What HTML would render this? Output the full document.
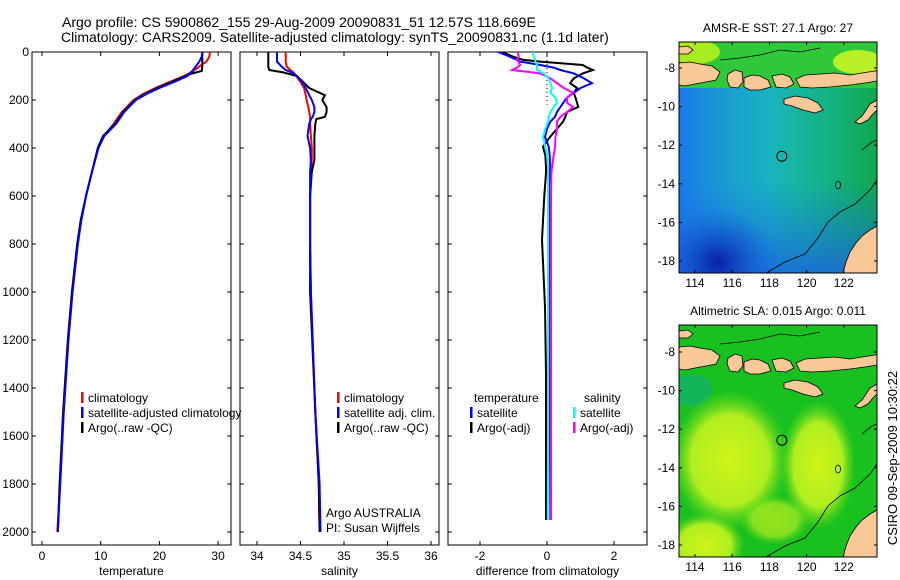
<!DOCTYPE html>
<html><head><meta charset="utf-8"><style>
html,body{margin:0;padding:0;background:#fff;}
svg{display:block;font-family:"Liberation Sans",sans-serif;}
</style></head><body>
<svg id="fig" width="900" height="580" viewBox="0 0 900 580">
<defs>
<linearGradient id="sstLeft" x1="0" x2="1" y1="0" y2="0"><stop offset="0" stop-color="#1a78e8"/><stop offset="0.6" stop-color="#1a9ed8" stop-opacity="0"/></linearGradient>
<linearGradient id="sstRight" x1="0" x2="1" y1="0" y2="0"><stop offset="0.45" stop-color="#12a860" stop-opacity="0"/><stop offset="1" stop-color="#10a84a"/></linearGradient>
<radialGradient id="sstDeep" cx="0.5" cy="0.5" r="0.5"><stop offset="0" stop-color="#0a1ea8"/><stop offset="1" stop-color="#1060d8" stop-opacity="0"/></radialGradient>
<linearGradient id="sstBottom" x1="0" x2="0" y1="0" y2="1"><stop offset="0.6" stop-color="#1a70e0" stop-opacity="0"/><stop offset="1" stop-color="#1a60e0" stop-opacity="0.8"/></linearGradient>
<radialGradient id="slaYel" cx="0.5" cy="0.5" r="0.5"><stop offset="0" stop-color="#d0f418"/><stop offset="0.65" stop-color="#b0ee20"/><stop offset="1" stop-color="#60d818" stop-opacity="0"/></radialGradient>
</defs>
<text x="62" y="27" font-size="14">Argo profile: CS 5900862_155 29-Aug-2009 20090831_51 12.57S 118.669E</text>
<text x="61" y="42" font-size="14">Climatology: CARS2009. Satellite-adjusted climatology: synTS_20090831.nc (1.1d later)</text>
<g id="panels"></g>
<g id="maps"></g>
<text transform="translate(897,458) rotate(-90)" font-size="13" text-anchor="middle">CSIRO 09-Sep-2009 10:30:22</text>
</svg>
<script>
// ---- data ----
const depthTicks = [0,200,400,600,800,1000,1200,1400,1600,1800,2000];
const tempTicks = [0,10,20,30];
const salTicks = [34,34.5,35,35.5,36];
const diffTicks = [-2,0,2];

const depthT = [0,20,40,60,79,90,100,125,150,175,200,250,300,350,400,500,600,700,800,1000,1200,1500,1800,2000];
const argoT = [27.3,27.3,27.3,27.3,27.2,25.5,24.4,22,19.6,17.5,15.8,13.8,12.4,10.4,9.5,8.5,7.5,6.6,6.0,5.1,4.4,3.6,3.0,2.7];
const climT = [28.6,28.5,28.0,26.8,25.8,25.0,24.2,21.7,19.3,17.2,15.6,13.6,12.2,10.6,9.6,8.5,7.5,6.7,6.1,5.2,4.5,3.7,3.1,2.6];
const satT = [27.3,27.2,26.8,26.2,25.6,25.1,24.8,22.5,20.0,17.8,16.0,14.0,12.6,10.6,9.6,8.5,7.5,6.7,6.1,5.2,4.5,3.7,3.1,2.7];

const depthS = [0,20,40,60,75,85,100,125,150,180,200,230,250,270,280,300,350,400,450,500,600,800,1000,1500,1800,2000];
const argoS = [34.13,34.13,34.13,34.13,34.14,34.3,34.46,34.53,34.6,34.78,34.75,34.8,34.8,34.78,34.68,34.67,34.66,34.66,34.66,34.63,34.61,34.61,34.61,34.67,34.71,34.72];
const climS = [34.33,34.33,34.33,34.34,34.38,34.42,34.45,34.5,34.54,34.56,34.57,34.59,34.6,34.61,34.61,34.61,34.62,34.63,34.63,34.62,34.61,34.61,34.62,34.67,34.71,34.72];
const satS = [34.23,34.23,34.23,34.28,34.33,34.4,34.46,34.52,34.56,34.6,34.63,34.66,34.66,34.64,34.62,34.6,34.58,34.61,34.62,34.61,34.61,34.61,34.62,34.67,34.72,34.73];

const depthD = [0,20,33,40,54,65,75,89,110,130,150,170,190,212,229,250,270,290,320,354,395,430,478,505,600,783,1062,1338,1600,1950];
const satTd = [-1.46,-1.1,-0.9,-0.8,-0.2,0.2,0.4,0.8,1.1,1.34,1.0,0.8,0.6,0.48,0.4,0.3,0.24,0.1,0.0,-0.06,0.05,0.08,0.09,0.08,0.06,0.06,0.07,0.08,0.09,0.1];
const argoTd = [-1.35,-1.0,-0.7,-0.2,1.07,1.2,1.37,1.07,0.8,0.69,0.9,0.8,0.85,0.9,0.93,0.6,0.55,0.48,0.3,0.09,-0.12,-0.05,-0.03,-0.03,-0.08,-0.15,-0.06,-0.03,-0.03,-0.03];
const satSd = [-0.42,-0.4,-0.35,-0.35,-0.3,-0.3,-0.3,-0.1,0.05,0.1,0.15,0.1,0.25,0.3,0.2,0.1,0.05,0.03,-0.05,-0.12,-0.05,0,0.03,0.03,0.03,0.03,0.03,0.03,0.03,0.02];
const argoSd = [-0.87,-0.85,-0.9,-0.85,-0.8,-0.9,-1.04,-0.2,0.1,0.3,0.5,0.78,0.6,0.6,0.78,0.6,0.4,0.3,0.3,0.25,0.24,0.2,0.15,0.13,0.12,0.12,0.12,0.12,0.12,0.12];

const lonTicks = [114,116,118,120,122];
const latTicks = [-8,-10,-12,-14,-16,-18];
const argoLon = 118.669, argoLat = -12.57;

// ---- helpers ----
const NS = 'http://www.w3.org/2000/svg';
function mk(tag, attrs, parent){const e=document.createElementNS(NS,tag);for(const k in attrs)e.setAttribute(k,attrs[k]);parent.appendChild(e);return e;}
const TOP=52, BOT=545;
const yD = d => TOP + d*0.24;
const panels = document.getElementById('panels');

function panel(name, x0, x1, xScale, ticks, title, showY){
  const g = mk('g',{},panels);
  
  
  const fr = mk('rect',{x:x0,y:TOP,width:x1-x0,height:BOT-TOP,fill:'none',stroke:'#000','stroke-width':1},g);
  
  
  ticks.forEach(t=>{
    const x = xScale(t);
    mk('line',{x1:x,x2:x,y1:TOP,y2:TOP+4,stroke:'#000'},g);
    mk('line',{x1:x,x2:x,y1:BOT,y2:BOT-4,stroke:'#000'},g);
    const lab = mk('text',{x:x,y:560,'font-size':12,'text-anchor':'middle'},g);
    lab.textContent = String(t);
    
    
  });
  depthTicks.forEach(d=>{
    const y = yD(d);
    mk('line',{x1:x0,x2:x0+4,y1:y,y2:y,stroke:'#000'},g);
    mk('line',{x1:x1,x2:x1-4,y1:y,y2:y,stroke:'#000'},g);
    if(showY){
      const lab = mk('text',{x:x0-3,y:y+4,'font-size':12,'text-anchor':'end'},g);
      lab.textContent = String(d);
      
      
    }
  });
  const tt = mk('text',{x:(x0+x1)/2,y:575,'font-size':12,'text-anchor':'middle'},g);
  tt.textContent = title;
  
  
  return g;
}
function line(g, xs, ds, xScale, color, name, dash){
  const pts = xs.map((v,i)=>xScale(v).toFixed(1)+','+yD(ds[i]).toFixed(1)).join(' ');
  const p = mk('polyline',{points:pts,fill:'none',stroke:color,'stroke-width':2},g);
  if(dash) p.setAttribute('stroke-dasharray', dash);
  
  
}
function legend(g, x, y, items, fs){
  items.forEach((it,i)=>{
    const yy = y + i*15;
    if(it[1]) mk('rect',{x:x,y:yy-10,width:2.5,height:11,fill:it[1]},g);
    const t = mk('text',{x:x+(it[1]?7:0),y:yy,'font-size':fs||12},g);
    t.textContent = it[0];
    
    
  });
}

// Temperature panel
const xT = v => 42 + v*5.87;
const gT = panel('temperature-panel', 32, 231, xT, tempTicks, 'temperature', true);
line(gT, climT, depthT, xT, '#f00', 'climatology-temperature-line');
line(gT, argoT, depthT, xT, '#000', 'argo-temperature-line');
line(gT, satT, depthT, xT, '#00f', 'satellite-temperature-line');
legend(gT, 81, 402, [['climatology','#f00'],['satellite-adjusted climatology','#00f'],['Argo(..raw -QC)','#000']]);

// Salinity panel
const xS = v => 257 + (v-34)*87;
const gS = panel('salinity-panel', 240, 439, xS, salTicks, 'salinity', false);
line(gS, climS, depthS, xS, '#f00', 'climatology-salinity-line');
line(gS, argoS, depthS, xS, '#000', 'argo-salinity-line');
line(gS, satS, depthS, xS, '#00f', 'satellite-salinity-line');
legend(gS, 337, 402, [['climatology','#f00'],['satellite adj. clim.','#00f'],['Argo(..raw -QC)','#000']]);
legend(gS, 326, 517, [['Argo AUSTRALIA',null],['PI: Susan Wijffels',null]]);

// Difference panel
const xDf = v => 547 + v*33.5;
const gD = panel('difference-panel', 448, 647, xDf, diffTicks, 'difference from climatology', false);
mk('line',{x1:xDf(0),x2:xDf(0),y1:TOP,y2:yD(220),stroke:'#000','stroke-dasharray':'1,3'},gD);
line(gD, argoTd, depthD, xDf, '#000', 'argo-temperature-difference-line');
line(gD, satTd, depthD, xDf, '#00f', 'satellite-temperature-difference-line');
line(gD, argoSd, depthD, xDf, '#f0f', 'argo-salinity-difference-line');
line(gD, satSd, depthD, xDf, '#0ff', 'satellite-salinity-difference-line');
legend(gD, 474, 402, [['temperature',null]]);
legend(gD, 470, 417, [['satellite','#00f'],['Argo(-adj)','#000']]);
legend(gD, 584, 402, [['salinity',null]]);
legend(gD, 573, 417, [['satellite','#0ff'],['Argo(-adj)','#f0f']]);

// ---- maps ----
const maps = document.getElementById('maps');
const MX0=679, MX1=877;
const xLon = lon => 695 + (lon-114)*18.6;
function drawMap(name, top, bottom, lat8y, title, bgFn){
  const yLat = lat => lat8y + (-8-lat)*19.3;
  const g = mk('g',{},maps);
  
  
  const clipId = name+'-clip';
  const cp = mk('clipPath',{id:clipId},g);
  mk('rect',{x:MX0,y:top,width:MX1-MX0,height:bottom-top},cp);
  const inner = mk('g',{'clip-path':'url(#'+clipId+')'},g);
  bgFn(inner, top, bottom);
  const dy = lat8y - 68;
  const land = '#f8c896';
  const polys = [
    '679,63 690,62 700,64 712,66 720,72 716,80 706,82 695,84 685,86 679,85',
    '679,47 688,46 693,50 688,54 679,54',
    '728,74 735,70 742,72 743,82 738,88 730,87 727,80',
    '744,78 752,75 760,76 768,80 771,87 760,90 750,90 744,87',
    '772,76 782,74 790,77 794,84 786,88 776,87',
    '796,79 805,75 820,74 835,73 850,75 862,73 875,71 877,71 877,81 865,83 850,85 830,87 812,88 800,87',
    '784,99 795,96 808,98 818,103 823,110 815,113 803,110 792,106 784,104',
    '877,100 870,104 866,110 862,116 855,122 860,124 868,120 872,115 877,110',
    '843,273 846,262 850,252 856,243 862,236 870,230 877,226 877,273'
  ];
  polys.forEach(pts=>{
    const shifted = pts.split(' ').map(p=>{const [a,b]=p.split(',');return a+','+(+b+dy);}).join(' ');
    const pl = mk('polygon',{points:shifted,fill:land,stroke:'#000','stroke-width':0.8},inner);
    
    
  });
  const contour = [[766,273],[785,262],[805,254],[818,238],[828,222],[840,212],[855,204],[870,190],[877,180]].map(p=>p[0]+','+(p[1]+dy)).join(' ');
  mk('polyline',{points:contour,fill:'none',stroke:'#000','stroke-width':0.8},inner);
  mk('polyline',{points:[[862,150],[872,142],[877,140]].map(p=>p[0]+','+(p[1]+dy)).join(' '),fill:'none',stroke:'#000','stroke-width':0.8},inner);
  mk('polyline',{points:[[720,60],[740,58],[760,55],[780,50],[800,52],[820,48]].map(p=>p[0]+','+(p[1]+dy)).join(' '),fill:'none',stroke:'#000','stroke-width':0.7},inner);
  mk('ellipse',{cx:838,cy:185+dy,rx:2.5,ry:4,fill:'none',stroke:'#000','stroke-width':0.8},inner);
  const c = mk('circle',{cx:xLon(argoLon),cy:yLat(argoLat),r:5,fill:'none',stroke:'#000','stroke-width':1},g);
  
  
  const fr = mk('rect',{x:MX0,y:top,width:MX1-MX0,height:bottom-top,fill:'none',stroke:'#000'},g);
  
  
  lonTicks.forEach(l=>{
    const x = xLon(l);
    mk('line',{x1:x,x2:x,y1:top,y2:top+3,stroke:'#000'},g);
    mk('line',{x1:x,x2:x,y1:bottom,y2:bottom-3,stroke:'#000'},g);
    const t = mk('text',{x:x,y:bottom+14,'font-size':12,'text-anchor':'middle'},g);
    t.textContent = String(l);
    
    
  });
  latTicks.forEach(l=>{
    const y = yLat(l);
    mk('line',{x1:MX0,x2:MX0+3,y1:y,y2:y,stroke:'#000'},g);
    mk('line',{x1:MX1,x2:MX1-3,y1:y,y2:y,stroke:'#000'},g);
    const t = mk('text',{x:MX0-4,y:y+4,'font-size':12,'text-anchor':'end'},g);
    t.textContent = String(l);
    
    
  });
  const tt = mk('text',{x:(MX0+MX1)/2,y:top-10,'font-size':12,'text-anchor':'middle'},g);
  tt.textContent = title;
  
  
}
drawMap('sst-map', 42, 273, 68, 'AMSR-E SST: 27.1 Argo: 27', (g,top,bot)=>{
  mk('rect',{x:MX0,y:top,width:198,height:bot-top,fill:'#18bcb8'},g);
  mk('rect',{x:MX0,y:top,width:198,height:bot-top,fill:'url(#sstLeft)'},g);
  mk('rect',{x:MX0,y:top,width:198,height:bot-top,fill:'url(#sstRight)'},g);
  mk('rect',{x:MX0,y:top,width:198,height:bot-top,fill:'url(#sstBottom)'},g);
  mk('ellipse',{cx:718,cy:262,rx:60,ry:55,fill:'url(#sstDeep)'},g);
  mk('rect',{x:MX0,y:top,width:198,height:46,fill:'#2ec838'},g);
  mk('ellipse',{cx:695,cy:52,rx:25,ry:12,fill:'#a8ec20'},g);
  mk('ellipse',{cx:858,cy:62,rx:25,ry:12,fill:'#b8f028'},g);
});
drawMap('sla-map', 325, 557, 352, 'Altimetric SLA: 0.015 Argo: 0.011', (g,top,bot)=>{
  mk('rect',{x:MX0,y:top,width:198,height:bot-top,fill:'#18c020'},g);
  mk('ellipse',{cx:692,cy:390,rx:20,ry:16,fill:'#10b070',opacity:0.7},g);
  mk('ellipse',{cx:730,cy:460,rx:60,ry:70,fill:'url(#slaYel)'},g);
  mk('ellipse',{cx:705,cy:545,rx:40,ry:32,fill:'url(#slaYel)'},g);
  mk('ellipse',{cx:818,cy:465,rx:38,ry:65,fill:'url(#slaYel)'},g);
  mk('ellipse',{cx:775,cy:520,rx:35,ry:25,fill:'url(#slaYel)',opacity:0.7},g);
});
</script>
</body></html>
